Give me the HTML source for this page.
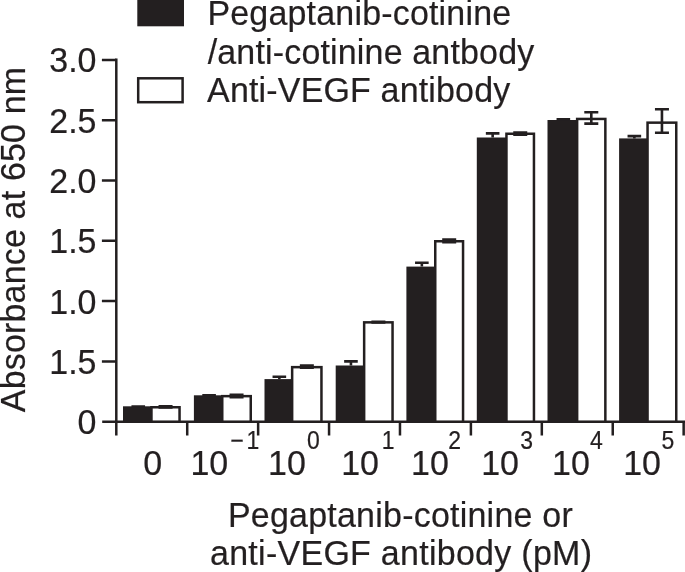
<!DOCTYPE html>
<html><head><meta charset="utf-8"><title>Figure</title>
<style>
html,body{margin:0;padding:0;background:#fff;}
svg{display:block;}
text{font-family:"Liberation Sans",Arial,Helvetica,sans-serif;fill:#231f20;stroke:#231f20;stroke-width:0.2px;}
</style></head><body>
<svg width="685" height="572" viewBox="0 0 685 572">
<rect width="685" height="572" fill="#fff"/>

<rect x="137.3" y="-2" width="46.7" height="28.3" fill="#231f20"/>
<rect x="138.2" y="78.3" width="44.4" height="23.9" fill="#fff" stroke="#231f20" stroke-width="2.5"/>
<text transform="translate(207.40,24.80) scale(1,1.015)" font-size="34" letter-spacing="0.181">Pegaptanib-cotinine</text>
<text transform="translate(207.70,63.60) scale(1,1.015)" font-size="34" letter-spacing="0.161">/anti-cotinine antbody</text>
<text transform="translate(207.10,102.40) scale(1,1.015)" font-size="34" letter-spacing="0.160">Anti-VEGF antibody</text>
<path d="M116.3 58.6V435.6M102.2 421.7H685" stroke="#231f20" stroke-width="2.5" fill="none"/>
<path d="M101.9 361.40H116.3M101.9 301.10H116.3M101.9 240.80H116.3M101.9 180.50H116.3M101.9 120.20H116.3M101.9 59.90H116.3" stroke="#231f20" stroke-width="2.5" fill="none"/>
<path d="M187.22 421.7V435.6M258.14 421.7V435.6M329.06 421.7V435.6M399.98 421.7V435.6M470.90 421.7V435.6M541.82 421.7V435.6M612.74 421.7V435.6M683.66 421.7V435.6" stroke="#231f20" stroke-width="2.5" fill="none"/>
<text transform="translate(77.60,434.15) scale(1,1.055)" font-size="34">0</text>
<text transform="translate(49.24,373.85) scale(1,1.055)" font-size="34">1.5</text>
<text transform="translate(49.24,313.55) scale(1,1.055)" font-size="34">1.0</text>
<text transform="translate(49.24,253.25) scale(1,1.055)" font-size="34">1.5</text>
<text transform="translate(49.24,192.95) scale(1,1.055)" font-size="34">2.0</text>
<text transform="translate(49.24,132.65) scale(1,1.055)" font-size="34">2.5</text>
<text transform="translate(49.24,72.35) scale(1,1.055)" font-size="34">3.0</text>
<text transform="translate(25.1,412.20) rotate(-90) scale(1,1.015)" font-size="34" letter-spacing="0.174">Absorbance at 650 nm</text>
<text transform="translate(143.30,474.70) scale(1,1.055)" font-size="34">0</text>
<text transform="translate(190.39,474.70) scale(1,1.055)" font-size="34">10</text>
<text transform="translate(268.09,474.70) scale(1,1.055)" font-size="34">10</text>
<text transform="translate(341.19,474.70) scale(1,1.055)" font-size="34">10</text>
<text transform="translate(411.09,474.70) scale(1,1.055)" font-size="34">10</text>
<text transform="translate(481.19,474.70) scale(1,1.055)" font-size="34">10</text>
<text transform="translate(551.99,474.70) scale(1,1.055)" font-size="34">10</text>
<text transform="translate(623.19,474.70) scale(1,1.055)" font-size="34">10</text>
<text transform="translate(230.60,449.20) scale(1,1.11)" font-size="23">−</text>
<text transform="translate(246.50,449.20) scale(1,1.11)" font-size="23">1</text>
<text transform="translate(307.10,449.20) scale(1,1.11)" font-size="23">0</text>
<text transform="translate(381.70,449.20) scale(1,1.11)" font-size="23">1</text>
<text transform="translate(448.20,449.20) scale(1,1.11)" font-size="23">2</text>
<text transform="translate(520.30,449.20) scale(1,1.11)" font-size="23">3</text>
<text transform="translate(590.10,449.20) scale(1,1.11)" font-size="23">4</text>
<text transform="translate(661.60,449.20) scale(1,1.11)" font-size="23">5</text>
<text transform="translate(227.90,527.00) scale(1,1.015)" font-size="34" letter-spacing="0.223">Pegaptanib-cotinine or</text>
<text transform="translate(210.00,564.90) scale(1,1.015)" font-size="34" letter-spacing="0.273">anti-VEGF antibody (pM)</text>
<rect x="123.0" y="406.3" width="29.70" height="15.40" fill="#231f20"/>
<rect x="151.45" y="407.25" width="28.10" height="14.45" fill="#fff" stroke="#231f20" stroke-width="2.5"/>
<path d="M138.25 406.3V406.5M131.45 406.5H145.05" stroke="#231f20" stroke-width="2.6" fill="none"/>
<path d="M165.55 406.3V407.4M158.55 406.3H172.55M158.55 407.4H172.55" stroke="#231f20" stroke-width="2.6" fill="none"/>
<rect x="193.9" y="395.3" width="29.60" height="26.40" fill="#231f20"/>
<rect x="222.25" y="396.15" width="28.50" height="25.55" fill="#fff" stroke="#231f20" stroke-width="2.5"/>
<path d="M209.10 395.3V395.4M202.30 395.4H215.90" stroke="#231f20" stroke-width="2.6" fill="none"/>
<path d="M236.55 394.8V397.2M229.55 394.8H243.55M229.55 397.2H243.55" stroke="#231f20" stroke-width="2.6" fill="none"/>
<rect x="264.5" y="379.1" width="28.90" height="42.60" fill="#231f20"/>
<rect x="292.15" y="367.15" width="29.30" height="54.55" fill="#fff" stroke="#231f20" stroke-width="2.5"/>
<path d="M279.35 379.1V376.8M272.55 376.8H286.15" stroke="#231f20" stroke-width="2.6" fill="none"/>
<path d="M306.85 365.5V367.7M299.85 365.5H313.85M299.85 367.7H313.85" stroke="#231f20" stroke-width="2.6" fill="none"/>
<rect x="335.7" y="365.5" width="29.70" height="56.20" fill="#231f20"/>
<rect x="364.15" y="322.35" width="28.40" height="99.35" fill="#fff" stroke="#231f20" stroke-width="2.5"/>
<path d="M350.95 365.5V361.4M344.15 361.4H357.75" stroke="#231f20" stroke-width="2.6" fill="none"/>
<path d="M378.40 321.7V322.4M371.40 321.7H385.40M371.40 322.4H385.40" stroke="#231f20" stroke-width="2.6" fill="none"/>
<rect x="406.4" y="266.6" width="30.10" height="155.10" fill="#231f20"/>
<rect x="435.25" y="241.25" width="27.80" height="180.45" fill="#fff" stroke="#231f20" stroke-width="2.5"/>
<path d="M421.85 266.6V262.7M415.05 262.7H428.65" stroke="#231f20" stroke-width="2.6" fill="none"/>
<path d="M449.20 239.5V242.3M442.20 239.5H456.20M442.20 242.3H456.20" stroke="#231f20" stroke-width="2.6" fill="none"/>
<rect x="476.8" y="137.5" width="30.90" height="284.20" fill="#231f20"/>
<rect x="506.45" y="133.75" width="27.50" height="287.95" fill="#fff" stroke="#231f20" stroke-width="2.5"/>
<path d="M492.65 137.5V133.4M485.85 133.4H499.45" stroke="#231f20" stroke-width="2.6" fill="none"/>
<path d="M520.25 132.6V134.8M513.25 132.6H527.25M513.25 134.8H527.25" stroke="#231f20" stroke-width="2.6" fill="none"/>
<rect x="547.5" y="120.0" width="30.90" height="301.70" fill="#231f20"/>
<rect x="577.15" y="118.95" width="28.20" height="302.75" fill="#fff" stroke="#231f20" stroke-width="2.5"/>
<path d="M563.35 120.0V119.3M556.55 119.3H570.15" stroke="#231f20" stroke-width="2.6" fill="none"/>
<path d="M591.30 112.3V123.6M584.30 112.3H598.30M584.30 123.6H598.30" stroke="#231f20" stroke-width="2.6" fill="none"/>
<rect x="619.1" y="138.4" width="29.70" height="283.30" fill="#231f20"/>
<rect x="647.55" y="122.65" width="28.70" height="299.05" fill="#fff" stroke="#231f20" stroke-width="2.5"/>
<path d="M634.35 138.4V136.1M627.55 136.1H641.15" stroke="#231f20" stroke-width="2.6" fill="none"/>
<path d="M661.95 109.3V132.7M654.95 109.3H668.95M654.95 132.7H668.95" stroke="#231f20" stroke-width="2.6" fill="none"/>
</svg></body></html>
